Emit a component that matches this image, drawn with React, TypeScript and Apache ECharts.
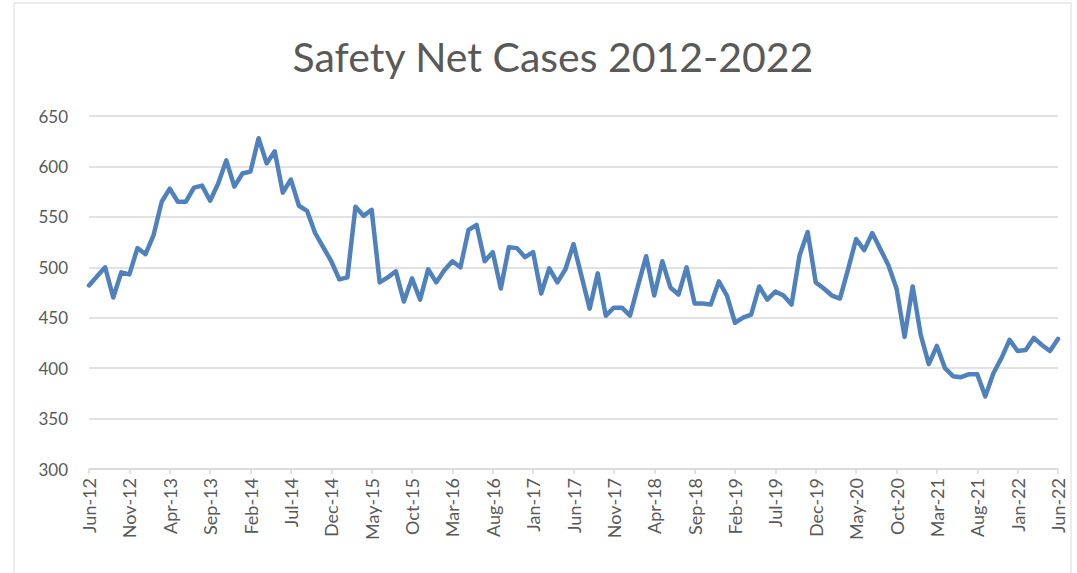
import React, { useEffect, useRef } from "react";
import * as echarts from "echarts";

const MONTHS = ["Jan", "Feb", "Mar", "Apr", "May", "Jun", "Jul", "Aug", "Sep", "Oct", "Nov", "Dec"];
const START_YEAR = 2012;
const START_MONTH = 5; // Jun
const MONTH_COUNT = 121;

const categories: string[] = [];
for (let i = 0; i < MONTH_COUNT; i++) {
  const m = (START_MONTH + i) % 12;
  const y = START_YEAR + Math.floor((START_MONTH + i) / 12);
  categories.push(`${MONTHS[m]}-${String(y).slice(2)}`);
}

const cases2012to2014 = [
  482, 491, 500, 470, 495, 493, 519, 513, 532, 565, 578, 565, 565, 579, 581, 566, 583, 606, 580, 593,
  595, 628, 603, 615, 574, 587, 561, 556, 534, 520,
];
const cases2015to2017 = [
  506, 488, 490, 560, 551, 557, 485, 490, 496, 466, 489, 468, 498, 485, 497, 506, 500, 537, 542, 506,
  515, 479, 520, 519, 510, 515, 474, 499, 485, 498,
];
const cases2017to2019 = [
  523, 491, 459, 494, 452, 460, 460, 452, 482, 511, 472, 506, 480, 473, 500, 464, 464, 463, 486, 472,
  445, 450, 453, 481, 468, 476, 472, 463, 512, 535,
];
const cases2019to2022 = [
  485, 479, 472, 469, 498, 528, 517, 534, 518, 502, 479, 431, 481, 433, 404, 422, 400, 392, 391, 394,
  394, 372, 395, 410, 428, 417, 418, 430, 423, 417, 429,
];
const cases = [...cases2012to2014, ...cases2015to2017, ...cases2017to2019, ...cases2019to2022];

const yTicks = [300, 350, 400, 450, 500, 550, 600, 650];
const TITLE = "Safety Net Cases 2012-2022";

export default function App() {
  const ref = useRef<HTMLDivElement>(null);
  useEffect(() => {
    document.body.style.margin = "0";
    if (!ref.current) return;
    const chart = echarts.init(ref.current, null, { renderer: "svg" });
    const font = "Lato, 'Open Sans', sans-serif";
    chart.setOption({
      animation: false,
      backgroundColor: "#ffffff",
      textStyle: { fontFamily: font },
      graphic: [
        {
          type: "rect",
          shape: { x: 14, y: 3, width: 1057, height: 600 },
          style: { fill: "none", stroke: "#d9d9d9", lineWidth: 1 },
          silent: true,
        },
        {
          type: "text",
          x: 553,
          y: 56,
          style: {
            text: TITLE,
            fontFamily: font,
            fontSize: 41,
            fill: "#595959",
            textAlign: "center",
            textVerticalAlign: "middle",
          },
        },
      ],
      grid: { left: 89, right: 19, top: 116, bottom: 104, containLabel: false },
      xAxis: {
        type: "category",
        data: categories,
        boundaryGap: false,
        axisLine: { show: true, lineStyle: { color: "#d9d9d9", width: 1.5 } },
        axisTick: { show: true, interval: 4, length: 5, lineStyle: { color: "#d9d9d9", width: 1.5 } },
        axisLabel: {
          interval: 4,
          rotate: 90,
          color: "#595959",
          fontSize: 18,
          fontFamily: font,
          margin: 9,
        },
        splitLine: { show: false },
      },
      yAxis: {
        type: "value",
        min: yTicks[0],
        max: yTicks[yTicks.length - 1],
        interval: 50,
        axisLine: { show: false },
        axisTick: { show: false },
        axisLabel: { color: "#595959", fontSize: 17, fontFamily: font, margin: 21 },
        splitLine: { lineStyle: { color: "#d9d9d9", width: 1.5 } },
      },
      series: [
        {
          type: "line",
          data: cases,
          symbol: "none",
          lineStyle: { color: "#4f81bd", width: 4.5, cap: "round", join: "round" },
          itemStyle: { color: "#4f81bd" },
        },
      ],
    });
    return () => chart.dispose();
  }, []);
  return <div ref={ref} style={{ width: 1077, height: 573 }} />;
}
